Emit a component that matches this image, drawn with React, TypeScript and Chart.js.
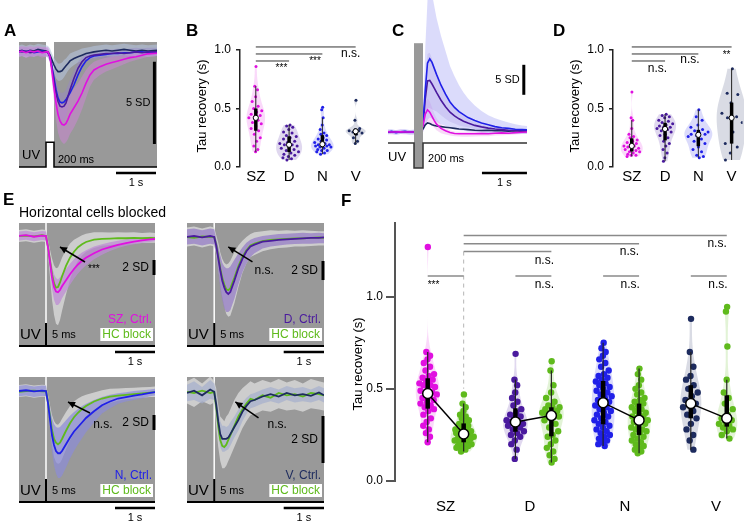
import React, { useEffect, useRef } from "react";
import { Chart, registerables } from "chart.js";

Chart.register(...registerables);
const FONT = "'Liberation Sans', Arial, Helvetica, sans-serif";
Chart.defaults.font.family = FONT;
Chart.defaults.color = "#000";

// ---------- colours ----------
const SZ_COL = "#e010e0";
const D_COL = "#4a1a9e";
const N_COL = "#2020e8";
const V_COL = "#1d2b5e";
const HC_COL = "#5fba1c";
const BG = "#999999";
const HC_BAND = "rgba(214,214,214,0.85)";

// ---------- Panel A (traces, SD units vs time s) ----------
const tA = [-0.675,-0.6,-0.5,-0.4,-0.3,-0.2,-0.1,0,0.05,0.1,0.15,0.2,0.25,0.3,0.35,0.4,0.45,0.5,0.55,0.6,0.7,0.8,0.9,1.0,1.1,1.2,1.35,1.5,1.65,1.8,1.95,2.1,2.25,2.4,2.55,2.775];
const aSZ = [0.0,0.05,-0.05,0.05,0.0,0.05,-0.05,0.0,0.0,-0.3,-1.2,-2.2,-3.1,-3.8,-4.2,-4.4,-4.45,-4.35,-4.1,-3.8,-3.4,-3.0,-2.5,-1.9,-1.4,-1.1,-0.9,-0.75,-0.65,-0.55,-0.45,-0.35,-0.3,-0.2,-0.12,-0.08];
const aD = [0.05,0.0,0.05,-0.05,0.0,0.05,0.0,0.0,-0.05,-0.3,-1.0,-1.8,-2.5,-3.0,-3.3,-3.35,-3.3,-3.1,-2.7,-2.3,-1.6,-1.0,-0.6,-0.35,-0.25,-0.2,-0.15,-0.1,-0.1,-0.05,-0.1,-0.05,0.0,-0.05,0.0,0.0];
const aN = [0.0,0.05,0.0,0.05,-0.05,0.0,0.05,0.0,-0.05,-0.3,-0.9,-1.6,-2.3,-2.8,-3.05,-3.1,-3.05,-2.9,-2.7,-2.5,-2.0,-1.4,-0.9,-0.55,-0.35,-0.25,-0.2,-0.15,-0.1,-0.1,-0.05,-0.05,0.0,0.0,-0.05,0.0];
const aV = [0.05,0.1,0.0,0.1,0.05,0.15,0.1,0.05,0.0,-0.2,-0.5,-0.8,-1.05,-1.2,-1.2,-1.15,-1.0,-0.85,-0.7,-0.55,-0.4,-0.3,-0.2,-0.1,-0.05,0.0,0.05,0.1,0.05,0.1,0.15,0.1,0.05,0.1,0.05,0.1];
const aSZhi = [0.3,0.35,0.3,0.35,0.3,0.35,0.3,0.3,0.3,0.0,-0.6,-1.4,-2.1,-2.7,-3.0,-3.2,-3.2,-3.1,-2.9,-2.6,-2.2,-1.9,-1.5,-1.1,-0.8,-0.6,-0.45,-0.35,-0.3,-0.25,-0.2,-0.15,-0.1,-0.05,0.0,0.05];
const aSZlo = [-0.3,-0.25,-0.35,-0.3,-0.3,-0.25,-0.35,-0.3,-0.3,-0.7,-1.8,-3.0,-4.1,-4.9,-5.3,-5.5,-5.6,-5.5,-5.3,-5.0,-4.6,-4.1,-3.5,-2.8,-2.1,-1.7,-1.4,-1.2,-1.05,-0.9,-0.75,-0.6,-0.5,-0.4,-0.3,-0.25];
const aDhi = [0.3,0.25,0.3,0.2,0.25,0.3,0.25,0.25,0.2,-0.05,-0.6,-1.2,-1.8,-2.2,-2.45,-2.5,-2.45,-2.3,-2.0,-1.7,-1.1,-0.6,-0.3,-0.1,0.0,0.05,0.1,0.15,0.15,0.2,0.15,0.2,0.25,0.2,0.25,0.25];
const aDlo = [-0.2,-0.25,-0.2,-0.3,-0.25,-0.2,-0.25,-0.25,-0.3,-0.55,-1.4,-2.4,-3.2,-3.8,-4.15,-4.2,-4.15,-3.9,-3.4,-2.9,-2.1,-1.4,-0.9,-0.6,-0.5,-0.45,-0.4,-0.35,-0.35,-0.3,-0.35,-0.3,-0.25,-0.3,-0.25,-0.25];
const aVhi = [0.4,0.45,0.35,0.45,0.4,0.5,0.45,0.4,0.35,0.2,-0.1,-0.35,-0.55,-0.7,-0.7,-0.65,-0.5,-0.4,-0.25,-0.1,0.0,0.1,0.2,0.25,0.3,0.35,0.4,0.45,0.4,0.45,0.5,0.45,0.4,0.45,0.4,0.45];
const aVlo = [-0.3,-0.25,-0.35,-0.25,-0.3,-0.2,-0.25,-0.3,-0.35,-0.6,-0.9,-1.3,-1.6,-1.75,-1.75,-1.7,-1.55,-1.35,-1.15,-1.0,-0.8,-0.65,-0.55,-0.45,-0.4,-0.35,-0.3,-0.25,-0.3,-0.25,-0.2,-0.25,-0.3,-0.25,-0.3,-0.25];
const stimAt = [-0.675, 0, 0, 0.2, 0.2, 2.775];
const stimAy = [-7, -7, -5.5, -5.5, -7, -7];

// ---------- Panel C ----------
const tC = [-0.578,-0.5,-0.4,-0.3,-0.2,-0.1,0,0.05,0.1,0.15,0.2,0.25,0.3,0.35,0.4,0.45,0.5,0.6,0.7,0.8,0.9,1.0,1.1,1.2,1.35,1.5,1.65,1.8,1.95,2.1,2.25,2.4,2.511];
const cN = [0.0,0.1,-0.1,0.05,0.1,-0.05,0.0,0.1,0.2,0.5,1.5,7.0,11.5,12.2,11.6,10.6,9.6,7.8,6.3,5.0,4.1,3.4,2.9,2.4,1.9,1.5,1.2,0.9,0.7,0.6,0.45,0.4,0.35];
const cD = [0.0,0.05,0.0,-0.05,0.05,0.0,0.0,0.1,0.15,0.4,1.2,5.5,8.5,8.6,8.0,7.3,6.6,5.3,4.2,3.3,2.7,2.2,1.8,1.5,1.1,0.85,0.65,0.5,0.4,0.3,0.25,0.2,0.2];
const cSZ = [0.05,0.0,0.0,0.05,0.0,0.0,0.0,0.05,0.1,0.3,1.0,3.0,3.7,3.3,2.6,1.9,1.3,0.6,0.2,-0.1,-0.25,-0.3,-0.3,-0.3,-0.3,-0.25,-0.3,-0.2,-0.15,-0.2,-0.1,-0.05,0.0];
const cV = [0.0,0.05,0.0,-0.05,0.05,0.0,0.0,0.05,0.1,0.2,0.5,1.2,1.5,1.4,1.2,1.1,1.0,0.9,0.8,0.7,0.6,0.5,0.45,0.4,0.3,0.25,0.3,0.2,0.2,0.15,0.2,0.1,0.1];
const cNhi = [0.4,0.5,0.3,0.45,0.5,0.35,0.4,0.5,0.7,1.2,3.0,14.0,22.0,24.0,23.0,21.0,19.0,16.0,13.5,11.0,9.3,7.8,6.6,5.6,4.4,3.5,2.8,2.3,1.9,1.6,1.3,1.1,1.0];
const cNlo = [-0.4,-0.3,-0.5,-0.35,-0.3,-0.45,-0.4,-0.35,-0.3,-0.2,0.0,1.0,2.0,2.4,2.2,1.9,1.7,1.3,1.0,0.7,0.5,0.3,0.2,0.1,0.0,-0.1,-0.2,-0.3,-0.3,-0.3,-0.35,-0.35,-0.35];
const cDhi = [0.3,0.35,0.3,0.25,0.35,0.3,0.3,0.35,0.45,0.8,2.2,8.5,13.0,13.2,12.2,11.0,9.8,7.8,6.2,4.9,4.0,3.3,2.7,2.2,1.7,1.3,1.0,0.8,0.65,0.55,0.5,0.45,0.45];
const cDlo = [-0.3,-0.25,-0.3,-0.35,-0.25,-0.3,-0.3,-0.25,-0.2,0.0,0.3,2.5,4.0,4.0,3.8,3.6,3.4,2.8,2.2,1.7,1.4,1.1,0.9,0.8,0.5,0.4,0.3,0.2,0.15,0.05,0.0,-0.05,-0.05];
const cSZhi = [0.4,0.35,0.35,0.4,0.35,0.35,0.35,0.4,0.5,0.8,2.0,5.0,5.6,5.1,4.1,3.1,2.3,1.3,0.7,0.3,0.1,0.05,0.05,0.05,0.05,0.1,0.05,0.1,0.15,0.1,0.2,0.25,0.3];
const cSZlo = [-0.35,-0.4,-0.4,-0.35,-0.4,-0.4,-0.4,-0.35,-0.3,-0.2,0.0,1.0,1.8,1.5,1.1,0.7,0.3,-0.2,-0.4,-0.6,-0.7,-0.75,-0.8,-0.8,-0.75,-0.7,-0.7,-0.6,-0.55,-0.5,-0.4,-0.35,-0.3];
const stimCt = [-0.578, 0, 0, 0.2, 0.2, 2.511];
const stimCy = [-1.83, -1.83, -6, -6, -1.83, -1.83];

// ---------- Panel E (4 sub-panels) ----------
const tE = [-0.675,-0.5,-0.3,-0.1,0,0.05,0.1,0.15,0.2,0.25,0.3,0.35,0.4,0.5,0.6,0.7,0.8,0.9,1.0,1.2,1.4,1.6,1.8,2.0,2.2,2.4,2.6,2.725];
const eSZc = [0.0,0.1,-0.1,0.05,0.0,-1.5,-3.5,-5.5,-6.8,-7.4,-7.5,-7.2,-6.7,-5.9,-5.1,-4.4,-3.8,-3.3,-2.9,-2.3,-1.8,-1.5,-1.2,-0.95,-0.75,-0.6,-0.45,-0.4];
const eSZh = [0.0,0.05,-0.05,0.1,0.0,-1.4,-3.3,-5.1,-6.3,-6.9,-6.8,-6.2,-5.4,-4.0,-2.9,-2.1,-1.5,-1.1,-0.8,-0.5,-0.4,-0.35,-0.3,-0.3,-0.25,-0.3,-0.25,-0.3];
const eSZcHi = [0.6,0.7,0.5,0.65,0.6,-1.0,-2.4,-4.0,-5.1,-5.6,-5.8,-5.5,-5.1,-4.4,-3.7,-3.1,-2.6,-2.2,-1.9,-1.4,-1.1,-0.85,-0.65,-0.45,-0.3,-0.2,-0.1,-0.1];
const eSZcLo = [-0.6,-0.5,-0.7,-0.55,-0.6,-2.0,-4.6,-7.0,-8.5,-9.2,-9.2,-8.9,-8.3,-7.4,-6.5,-5.7,-5.0,-4.4,-3.9,-3.1,-2.5,-2.0,-1.6,-1.3,-1.1,-0.95,-0.8,-0.7];
const eSZhHi = [0.8,0.9,0.7,0.85,0.8,-0.5,-1.8,-3.0,-3.9,-4.3,-4.2,-3.6,-2.9,-1.8,-1.0,-0.5,-0.2,0.1,0.3,0.5,0.5,0.45,0.5,0.45,0.5,0.4,0.45,0.4];
const eSZhLo = [-0.8,-0.7,-0.9,-0.75,-0.8,-2.5,-5.5,-8.5,-10.5,-11.7,-11.9,-11.2,-10.0,-7.8,-5.8,-4.3,-3.3,-2.6,-2.1,-1.6,-1.3,-1.2,-1.1,-1.0,-1.0,-0.95,-0.9,-0.9];

const eDc = [0.0,0.1,-0.05,0.1,0.0,-0.9,-2.2,-3.5,-4.6,-5.3,-5.8,-6.0,-5.8,-4.6,-3.3,-2.3,-1.5,-1.0,-0.8,-0.5,-0.4,-0.3,-0.25,-0.2,-0.15,-0.1,-0.1,-0.05];
const eDh = [0.0,-0.1,0.05,0.0,0.0,-0.8,-2.0,-3.3,-4.3,-5.0,-5.5,-5.6,-5.4,-4.3,-3.1,-2.1,-1.4,-0.9,-0.7,-0.45,-0.3,-0.25,-0.2,-0.15,-0.15,-0.1,-0.05,-0.1];
const eDcHi = [0.8,0.9,0.7,0.9,0.8,-0.2,-1.0,-1.9,-2.7,-3.1,-3.3,-3.3,-3.1,-2.4,-1.7,-1.1,-0.6,-0.3,-0.1,0.1,0.2,0.3,0.35,0.4,0.45,0.4,0.45,0.4];
const eDcLo = [-0.8,-0.7,-0.9,-0.7,-0.8,-1.8,-3.6,-5.4,-6.6,-7.5,-7.9,-7.9,-7.7,-6.5,-5.0,-3.7,-2.8,-2.1,-1.7,-1.2,-1.0,-0.9,-0.8,-0.75,-0.7,-0.7,-0.65,-0.65];
const eDhHi = [1.0,1.1,0.9,1.1,1.0,0.2,-0.6,-1.6,-2.3,-2.7,-2.9,-2.8,-2.5,-1.6,-0.9,-0.4,0.0,0.3,0.5,0.6,0.7,0.65,0.7,0.65,0.7,0.65,0.6,0.6];
const eDhLo = [-1.0,-0.9,-1.1,-0.9,-1.0,-1.8,-3.4,-5.0,-6.3,-7.3,-8.1,-8.4,-8.3,-7.0,-5.3,-3.8,-2.8,-2.1,-1.9,-1.5,-1.3,-1.15,-1.1,-1.0,-1.0,-0.95,-0.9,-0.9];

const eNc = [0.0,0.1,-0.05,0.05,0.0,-1.6,-3.8,-5.9,-7.2,-8.0,-8.3,-8.3,-8.0,-7.1,-6.2,-5.4,-4.8,-4.2,-3.6,-2.7,-1.9,-1.4,-1.0,-0.8,-0.6,-0.45,-0.25,-0.15];
const eNh = [-0.1,0.0,0.05,-0.05,0.0,-1.4,-3.4,-5.2,-6.4,-6.9,-7.1,-6.9,-6.4,-5.3,-4.3,-3.5,-2.9,-2.4,-2.0,-1.4,-1.0,-0.75,-0.6,-0.5,-0.4,-0.3,-0.2,-0.15];
const eNcHi = [0.7,0.8,0.6,0.75,0.7,-0.9,-2.3,-3.6,-4.4,-4.8,-4.9,-4.8,-4.5,-3.9,-3.3,-2.8,-2.4,-2.0,-1.7,-1.2,-0.8,-0.5,-0.3,-0.15,0.0,0.1,0.2,0.3];
const eNcLo = [-0.7,-0.6,-0.8,-0.65,-0.7,-2.3,-5.2,-8.1,-9.9,-11.0,-11.6,-11.6,-11.3,-10.2,-9.0,-8.0,-7.1,-6.3,-5.5,-4.2,-3.0,-2.3,-1.7,-1.4,-1.2,-1.0,-0.7,-0.6];
const eNhHi = [0.8,0.9,0.75,0.85,0.8,-0.5,-1.9,-3.2,-4.0,-4.4,-4.5,-4.2,-3.7,-2.8,-2.0,-1.4,-1.0,-0.7,-0.5,-0.2,0.1,0.3,0.35,0.4,0.45,0.5,0.55,0.6];
const eNhLo = [-0.8,-0.7,-0.9,-0.75,-0.8,-2.2,-4.8,-7.2,-8.8,-9.5,-9.7,-9.6,-9.1,-7.8,-6.6,-5.6,-4.8,-4.1,-3.5,-2.6,-2.0,-1.6,-1.3,-1.1,-1.0,-0.9,-0.8,-0.8];

const eVc = [0.0,0.1,-0.1,0.15,0.05,-0.5,-1.2,-1.75,-1.95,-1.95,-1.95,-1.9,-1.75,-1.45,-1.15,-0.8,-0.55,-0.35,-0.3,-0.15,-0.05,-0.15,0.0,-0.1,-0.05,-0.12,0.02,-0.1];
const eVh = [0.05,0.0,0.1,0.0,0.05,-0.6,-1.4,-2.0,-2.25,-2.3,-2.2,-2.0,-1.8,-1.4,-1.0,-0.7,-0.45,-0.25,-0.3,-0.1,-0.2,0.0,-0.1,-0.05,-0.15,0.0,-0.05,-0.1];
const eVcHi = [0.35,0.5,0.25,0.55,0.4,0.0,-0.6,-1.2,-1.4,-1.4,-1.45,-1.4,-1.25,-1.0,-0.7,-0.4,-0.2,-0.05,0.0,0.15,0.25,0.15,0.3,0.2,0.25,0.15,0.3,0.2];
const eVcLo = [-0.35,-0.3,-0.45,-0.25,-0.3,-1.0,-1.8,-2.3,-2.5,-2.5,-2.45,-2.4,-2.25,-1.9,-1.6,-1.2,-0.9,-0.65,-0.6,-0.45,-0.35,-0.45,-0.3,-0.4,-0.35,-0.4,-0.3,-0.4];
const eVhHi = [0.5,0.65,0.4,0.7,0.5,0.2,-0.5,-1.0,-1.1,-1.2,-1.0,-0.9,-0.7,-0.3,0.0,0.2,0.35,0.5,0.4,0.55,0.45,0.6,0.45,0.55,0.4,0.6,0.5,0.45];
const eVhLo = [-0.45,-0.6,-0.35,-0.5,-0.4,-1.4,-2.3,-2.9,-3.2,-3.2,-3.1,-2.9,-2.7,-2.3,-1.9,-1.5,-1.2,-0.95,-0.9,-0.75,-0.8,-0.65,-0.75,-0.7,-0.8,-0.65,-0.7,-0.75];

// ---------- Panels B, D, F (tau recovery, s) ----------
const categories = ["SZ", "D", "N", "V"];
const yTicksBD = [0, 0.5, 1.0];
const yTicksF = [0, 0.5, 1.0];

const bSZ = [0.86,0.69,0.66,0.6,0.56,0.52,0.5,0.48,0.47,0.45,0.44,0.43,0.42,0.4,0.38,0.37,0.35,0.33,0.31,0.28,0.25,0.22,0.18,0.15,0.13];
const bD = [0.36,0.35,0.34,0.32,0.3,0.29,0.27,0.26,0.25,0.24,0.22,0.21,0.2,0.19,0.19,0.18,0.17,0.16,0.15,0.14,0.13,0.12,0.11,0.1,0.09,0.08,0.07,0.06];
const bN = [0.51,0.49,0.42,0.36,0.32,0.29,0.28,0.27,0.25,0.24,0.23,0.22,0.21,0.2,0.19,0.19,0.19,0.18,0.18,0.17,0.17,0.16,0.15,0.14,0.14,0.13,0.12,0.11];
const bV = [0.57,0.4,0.33,0.32,0.31,0.31,0.3,0.29,0.28,0.25,0.22,0.2];

const dSZ = [0.64,0.42,0.4,0.33,0.28,0.26,0.25,0.23,0.22,0.21,0.2,0.19,0.18,0.18,0.17,0.16,0.15,0.15,0.14,0.13,0.13,0.12,0.11,0.1,0.1,0.09];
const dD = [0.45,0.44,0.43,0.42,0.4,0.39,0.38,0.37,0.36,0.35,0.34,0.34,0.33,0.32,0.31,0.3,0.28,0.27,0.25,0.22,0.2,0.18,0.15,0.12,0.08,0.05];
const dN = [0.49,0.43,0.4,0.36,0.34,0.32,0.31,0.3,0.29,0.28,0.28,0.27,0.26,0.24,0.22,0.2,0.17,0.15,0.13,0.1,0.09,0.08];
const dV = [0.84,0.63,0.62,0.55,0.46,0.43,0.42,0.38,0.3,0.2,0.17,0.12,0.06];

const fSZc = [1.27,0.7,0.68,0.66,0.64,0.62,0.6,0.58,0.57,0.56,0.55,0.54,0.53,0.52,0.52,0.51,0.5,0.49,0.48,0.47,0.47,0.46,0.45,0.44,0.43,0.42,0.41,0.4,0.39,0.38,0.36,0.34,0.32,0.3,0.28,0.26,0.24,0.21];
const fSZh = [0.47,0.42,0.4,0.38,0.36,0.35,0.34,0.33,0.32,0.31,0.3,0.29,0.28,0.28,0.27,0.27,0.26,0.26,0.25,0.25,0.24,0.24,0.23,0.23,0.22,0.22,0.21,0.21,0.2,0.2,0.19,0.19,0.18,0.18,0.17,0.16];
const fDc = [0.69,0.55,0.52,0.48,0.45,0.43,0.41,0.39,0.37,0.36,0.35,0.34,0.33,0.32,0.32,0.31,0.3,0.3,0.29,0.28,0.27,0.26,0.25,0.24,0.22,0.2,0.17,0.12];
const fDh = [0.65,0.6,0.52,0.48,0.45,0.43,0.41,0.4,0.4,0.39,0.38,0.37,0.37,0.36,0.36,0.35,0.34,0.33,0.31,0.29,0.27,0.25,0.24,0.22,0.2,0.18,0.16,0.14,0.12,0.1];
const fNc = [0.75,0.72,0.7,0.68,0.66,0.64,0.62,0.6,0.58,0.57,0.56,0.55,0.54,0.53,0.52,0.51,0.5,0.49,0.48,0.47,0.46,0.45,0.44,0.43,0.42,0.41,0.4,0.39,0.38,0.37,0.36,0.35,0.34,0.33,0.32,0.31,0.3,0.29,0.28,0.27,0.26,0.25,0.24,0.23,0.22,0.21,0.2,0.19];
const fNh = [0.61,0.58,0.55,0.52,0.5,0.48,0.47,0.45,0.44,0.43,0.42,0.41,0.4,0.39,0.38,0.37,0.36,0.35,0.35,0.34,0.33,0.33,0.32,0.31,0.3,0.29,0.28,0.28,0.27,0.26,0.25,0.24,0.23,0.22,0.21,0.2,0.19,0.18,0.17,0.16,0.15];
const fVc = [0.88,0.7,0.62,0.57,0.55,0.52,0.5,0.48,0.46,0.44,0.42,0.41,0.4,0.38,0.36,0.34,0.31,0.28,0.25,0.22,0.17];
const fVh = [0.945,0.92,0.73,0.55,0.48,0.45,0.42,0.39,0.36,0.34,0.33,0.32,0.31,0.3,0.29,0.28,0.27,0.25,0.23];

// ---------- helpers ----------
const xy = (t: number[], v: number[]) => t.map((x, i) => ({ x, y: v[i] }));
const tr = (t: number[], v: number[], c: string, order = 0, bw = 1.6) => ({
  data: xy(t, v), borderColor: c, borderWidth: bw, pointRadius: 0, fill: false, tension: 0, order,
});
const band = (t: number[], hi: number[], lo: number[], c: string, order: number) => [
  { data: xy(t, hi), borderColor: "rgba(0,0,0,0)", borderWidth: 0, pointRadius: 0, fill: "+1", backgroundColor: c, tension: 0, order },
  { data: xy(t, lo), borderColor: "rgba(0,0,0,0)", borderWidth: 0, pointRadius: 0, fill: false, tension: 0, order },
];

function drawText(ctx: any, s: string, x: number, y: number, size: number, align = "left", color = "#000", bold = false) {
  ctx.save();
  ctx.font = `${bold ? "bold " : ""}${size}px ${FONT}`;
  ctx.fillStyle = color;
  ctx.textAlign = align;
  ctx.textBaseline = "middle";
  ctx.fillText(s, x, y);
  ctx.restore();
}
function vText(ctx: any, s: string, x: number, y: number, size: number) {
  ctx.save();
  ctx.translate(x, y);
  ctx.rotate(-Math.PI / 2);
  ctx.font = `${size}px ${FONT}`;
  ctx.fillStyle = "#000";
  ctx.textAlign = "center";
  ctx.textBaseline = "middle";
  ctx.fillText(s, 0, 0);
  ctx.restore();
}
function seg(ctx: any, x1: number, y1: number, x2: number, y2: number, color: string, width: number, dash: number[] = []) {
  ctx.save();
  ctx.strokeStyle = color;
  ctx.lineWidth = width;
  ctx.setLineDash(dash);
  ctx.beginPath();
  ctx.moveTo(x1, y1);
  ctx.lineTo(x2, y2);
  ctx.stroke();
  ctx.restore();
}
function path(ctx: any, xs: number[], ys: number[], color: string, width: number) {
  ctx.save();
  ctx.strokeStyle = color;
  ctx.lineWidth = width;
  ctx.lineJoin = "miter";
  ctx.beginPath();
  xs.forEach((x, i) => (i ? ctx.lineTo(x, ys[i]) : ctx.moveTo(x, ys[i])));
  ctx.stroke();
  ctx.restore();
}
function arrow(ctx: any, x1: number, y1: number, x2: number, y2: number) {
  seg(ctx, x1, y1, x2, y2, "#000", 1.5);
  const a = Math.atan2(y2 - y1, x2 - x1);
  ctx.save();
  ctx.fillStyle = "#000";
  ctx.beginPath();
  ctx.moveTo(x2, y2);
  ctx.lineTo(x2 - 7 * Math.cos(a) + 3.5 * Math.sin(a), y2 - 7 * Math.sin(a) - 3.5 * Math.cos(a));
  ctx.lineTo(x2 - 7 * Math.cos(a) - 3.5 * Math.sin(a), y2 - 7 * Math.sin(a) + 3.5 * Math.cos(a));
  ctx.closePath();
  ctx.fill();
  ctx.restore();
}

function traceChart(w: number, h: number, area: number[], xr: number[], yr: number[], datasets: any[], before: any, after: any) {
  return {
    type: "line",
    data: { datasets },
    options: {
      animation: false, responsive: false, maintainAspectRatio: false, events: [],
      layout: { padding: { left: area[0], top: area[1], right: w - area[2], bottom: h - area[3] } },
      scales: {
        x: { type: "linear", display: false, min: xr[0], max: xr[1] },
        y: { type: "linear", display: false, min: yr[0], max: yr[1] },
      },
      plugins: { legend: { display: false }, tooltip: { enabled: false } },
    },
    plugins: [{ id: "deco", beforeDatasetsDraw: (c: any) => before(c, c.ctx), afterDatasetsDraw: (c: any) => after(c, c.ctx) }],
  };
}

// ---------- Panel A ----------
function makeA(w: number, h: number) {
  const ds = [
    tr(tA, aSZ, SZ_COL, 0), tr(tA, aD, D_COL, 1), tr(tA, aN, N_COL, 2), tr(tA, aV, V_COL, 3),
    ...band(tA, aSZhi, aSZlo, "rgba(212,130,222,0.45)", 10),
    ...band(tA, aDhi, aDlo, "rgba(150,130,205,0.4)", 11),
    ...band(tA, aVhi, aVlo, "rgba(180,195,220,0.6)", 12),
  ];
  const before = (c: any, ctx: any) => {
    const a = c.chartArea, X = (v: number) => c.scales.x.getPixelForValue(v);
    ctx.save();
    ctx.fillStyle = BG;
    ctx.fillRect(a.left, a.top, a.right - a.left, a.bottom - a.top);
    ctx.fillStyle = "#fff";
    ctx.fillRect(X(0), a.top, X(0.2) - X(0), a.bottom - a.top);
    ctx.restore();
  };
  const after = (c: any, ctx: any) => {
    const a = c.chartArea, X = (v: number) => c.scales.x.getPixelForValue(v), Y = (v: number) => c.scales.y.getPixelForValue(v);
    path(ctx, stimAt.map(X), stimAy.map(Y), "#000", 1.5);
    seg(ctx, X(2.71), Y(-0.6), X(2.71), Y(-5.6), "#000", 3);
    drawText(ctx, "5 SD", X(2.71) - 4, Y(-3.1), 11, "right");
    drawText(ctx, "UV", a.left + 3, Y(-6.3), 13);
    drawText(ctx, "200 ms", X(0.2) + 4, Y(-6.6), 11);
    seg(ctx, X(1.75), a.bottom + 6, X(2.75), a.bottom + 6, "#000", 2.5);
    drawText(ctx, "1 s", X(2.25), a.bottom + 16, 11, "center");
    drawText(ctx, "A", 4, 31, 17, "left", "#000", true);
  };
  return traceChart(w, h, [19, 42, 157, 167], [-0.675, 2.775], [-7.0, 0.6], ds, before, after);
}

// ---------- Panel C ----------
function makeC(w: number, h: number) {
  const ds = [
    tr(tC, cN, N_COL, 1), tr(tC, cD, D_COL, 2), tr(tC, cSZ, SZ_COL, 0), tr(tC, cV, V_COL, 3),
    ...band(tC, cNhi, cNlo, "rgba(170,170,245,0.42)", 10),
    ...band(tC, cDhi, cDlo, "rgba(140,110,200,0.22)", 11),
    ...band(tC, cSZhi, cSZlo, "rgba(235,150,235,0.35)", 12),
  ];
  const before = () => {};
  const after = (c: any, ctx: any) => {
    const a = c.chartArea, X = (v: number) => c.scales.x.getPixelForValue(v), Y = (v: number) => c.scales.y.getPixelForValue(v);
    ctx.save();
    ctx.fillStyle = BG;
    ctx.fillRect(X(0), Y(14.8), X(0.2) - X(0), Y(-6) - Y(14.8));
    ctx.restore();
    path(ctx, stimCt.map(X), stimCy.map(Y), "#333", 1.5);
    seg(ctx, X(2.44), Y(11.2), X(2.44), Y(6.2), "#000", 3);
    drawText(ctx, "5 SD", X(2.44) - 4, Y(8.7), 11, "right");
    drawText(ctx, "UV", a.left, Y(-4.2), 13);
    drawText(ctx, "200 ms", X(0.2) + 5, Y(-4.5), 11);
    seg(ctx, X(1.51), a.bottom + 5, X(2.51), a.bottom + 5, "#000", 2.5);
    drawText(ctx, "1 s", X(2.01), a.bottom + 15, 11, "center");
    drawText(ctx, "C", 22, 31, 17, "left", "#000", true);
  };
  return traceChart(w, h, [18, 0, 157, 168], [-0.578, 2.511], [-6, 22], ds, before, after);
}

// ---------- Panel E ----------
function makeE(o: any) {
  return (w: number, h: number) => {
    const ds = [
      tr(tE, o.ctrl, o.ctrlCol, 0, 1.8),
      tr(tE, o.hc, HC_COL, 1, 1.8),
      ...band(tE, o.ctrlHi, o.ctrlLo, o.ctrlBand, 10),
      ...band(tE, o.hcHi, o.hcLo, HC_BAND, 20),
    ];
    const before = (c: any, ctx: any) => {
      const a = c.chartArea, X = (v: number) => c.scales.x.getPixelForValue(v);
      ctx.save();
      ctx.fillStyle = BG;
      ctx.fillRect(a.left, a.top, a.right - a.left, a.bottom - a.top);
      ctx.restore();
      seg(ctx, X(0), a.top, X(0), a.bottom, "#fff", 1.5);
    };
    const after = (c: any, ctx: any) => {
      const a = c.chartArea, X = (v: number) => c.scales.x.getPixelForValue(v), Y = (v: number) => c.scales.y.getPixelForValue(v);
      seg(ctx, a.left, a.bottom, a.right, a.bottom, "#000", 2);
      seg(ctx, X(0), a.bottom, X(0), a.bottom - 23, "#000", 2);
      seg(ctx, a.right - 1, Y(o.sdBar[0]), a.right - 1, Y(o.sdBar[1]), "#000", 3);
      drawText(ctx, "2 SD", a.right - 6, (Y(o.sdBar[0]) + Y(o.sdBar[1])) / 2, 12, "right");
      arrow(ctx, X(o.arrow[0]), Y(o.arrow[1]), X(o.arrow[2]), Y(o.arrow[3]));
      const star = o.sig.s.startsWith("*");
      drawText(ctx, o.sig.s, X(o.sig.t), Y(o.sig.y) + (star ? 3 : 0), star ? 10 : 12);
      drawText(ctx, "UV", a.left + 1, a.bottom - 11, 15);
      drawText(ctx, "5 ms", X(0) + 6, a.bottom - 11, 11);
      drawText(ctx, o.ctrlLabel, a.right - 3, a.bottom - 26, 12, "right", o.ctrlCol);
      ctx.save();
      ctx.font = `12px ${FONT}`;
      const tw = ctx.measureText("HC block").width;
      ctx.fillStyle = "#fff";
      ctx.fillRect(a.right - 4 - tw - 2, a.bottom - 18, tw + 4, 13);
      ctx.restore();
      drawText(ctx, "HC block", a.right - 4, a.bottom - 11.5, 12, "right", HC_COL);
      seg(ctx, X(1.725), a.bottom + 6, X(2.725), a.bottom + 6, "#000", 2.5);
      drawText(ctx, "1 s", X(2.225), a.bottom + 16, 11, "center");
      if (o.extra) o.extra(ctx);
    };
    return traceChart(w, h, o.area, [-0.675, 2.725], o.y, ds, before, after);
  };
}

// ---------- violin charts ----------
function quant(s: number[], p: number) {
  const i = (s.length - 1) * p, lo = Math.floor(i), hi = Math.ceil(i);
  return s[lo] + (s[hi] - s[lo]) * (i - lo);
}
function summarize(vals: number[]) {
  const s = [...vals].sort((a, b) => a - b);
  const q1 = quant(s, 0.25), med = quant(s, 0.5), q3 = quant(s, 0.75), iqr = q3 - q1;
  const inside = s.filter((v) => v >= q1 - 1.5 * iqr && v <= q3 + 1.5 * iqr);
  const mean = s.reduce((a, b) => a + b, 0) / s.length;
  const sd = Math.sqrt(s.reduce((a, b) => a + (b - mean) ** 2, 0) / (s.length - 1));
  const bw = 1.06 * Math.min(sd, iqr / 1.34 || sd) * Math.pow(s.length, -0.2);
  const dens = (y: number) => s.reduce((a, v) => a + Math.exp(-0.5 * ((y - v) / bw) ** 2), 0);
  let dmax = 0;
  for (let k = 0; k <= 80; k++) dmax = Math.max(dmax, dens(s[0] + ((s[s.length - 1] - s[0]) * k) / 80));
  return { s, q1, med, q3, wlo: inside[0], whi: inside[inside.length - 1], min: s[0], max: s[s.length - 1], dens, dmax };
}
const jit = (i: number) => (((i + 1) * 0.6180339887) % 1) * 2 - 1;

function violinChart(o: any) {
  return (w: number, h: number) => {
    const st = o.groups.map((g: any) => summarize(g.vals));
    const datasets = o.groups.map((g: any, gi: number) => ({
      data: g.vals.map((v: number, i: number) => ({ x: g.pos + (jit(i) * 0.8 * g.hw * st[gi].dens(v)) / st[gi].dmax, y: v })),
      backgroundColor: g.dot, borderColor: g.dot, borderWidth: 0, pointRadius: o.dotR, pointHoverRadius: o.dotR,
    }));
    const before = (c: any) => {
      const ctx = c.ctx, X = (v: number) => c.scales.x.getPixelForValue(v), Y = (v: number) => c.scales.y.getPixelForValue(v);
      if (o.dashed) seg(ctx, X(o.dashed[0]), Y(o.dashed[1]), X(o.dashed[0]), Y(o.dashed[2]), "#b5b5b5", 1, [4, 4]);
      o.groups.forEach((g: any, gi: number) => {
        const s = st[gi], N = 60;
        ctx.save();
        ctx.beginPath();
        for (let k = 0; k <= N; k++) {
          const y = s.min + ((s.max - s.min) * k) / N, ww = (g.hw * s.dens(y)) / s.dmax;
          k ? ctx.lineTo(X(g.pos - ww), Y(y)) : ctx.moveTo(X(g.pos - ww), Y(y));
        }
        for (let k = N; k >= 0; k--) {
          const y = s.min + ((s.max - s.min) * k) / N, ww = (g.hw * s.dens(y)) / s.dmax;
          ctx.lineTo(X(g.pos + ww), Y(y));
        }
        ctx.closePath();
        ctx.fillStyle = g.fill;
        ctx.fill();
        ctx.restore();
      });
    };
    const after = (c: any) => {
      const ctx = c.ctx, X = (v: number) => c.scales.x.getPixelForValue(v), Y = (v: number) => c.scales.y.getPixelForValue(v);
      o.groups.forEach((g: any, gi: number) => {
        const s = st[gi];
        seg(ctx, X(g.pos), Y(s.wlo), X(g.pos), Y(s.whi), "#222", o.whiskW);
        seg(ctx, X(g.pos), Y(s.q1), X(g.pos), Y(s.q3), "#000", o.boxW);
      });
      (o.pairs || []).forEach((p: number[]) =>
        seg(ctx, X(o.groups[p[0]].pos), Y(st[p[0]].med), X(o.groups[p[1]].pos), Y(st[p[1]].med), "#000", 1.5));
      o.groups.forEach((g: any, gi: number) => {
        ctx.save();
        ctx.beginPath();
        ctx.arc(X(g.pos), Y(st[gi].med), o.medR, 0, Math.PI * 2);
        ctx.fillStyle = "#fff";
        ctx.fill();
        ctx.lineWidth = o.medLW;
        ctx.strokeStyle = "#000";
        ctx.stroke();
        ctx.restore();
      });
      o.lines.forEach((l: number[]) => seg(ctx, X(l[0]), Y(l[2]), X(l[1]), Y(l[2]), o.lineCol, o.lineW));
      o.labels.forEach((l: any) => {
        const star = l.s.startsWith("*");
        drawText(ctx, l.s, X(l.x), Y(l.y) + (star ? 3 : 0), star ? 10 : 12, l.align || "center");
      });
      vText(ctx, "Tau recovery (s)", o.title[0], o.title[1], 13);
      drawText(ctx, o.letter[0], o.letter[1], o.letter[2], 17, "left", "#000", true);
    };
    return {
      type: "scatter",
      data: { datasets },
      options: {
        animation: false, responsive: false, maintainAspectRatio: false, events: [],
        layout: { padding: o.pad },
        scales: {
          x: {
            type: "linear", min: o.x[0], max: o.x[1],
            afterFit: (s: any) => { s.height = o.axisH; },
            afterBuildTicks: (s: any) => { s.ticks = o.xTickPos.map((v: number) => ({ value: v })); },
            ticks: { callback: (_v: any, i: number) => categories[i], font: { size: 15, family: FONT }, padding: o.xPad, autoSkip: false, maxRotation: 0, minRotation: 0, color: "#000" },
            grid: { display: false, drawTicks: false },
            border: { display: false },
          },
          y: {
            type: "linear", min: o.y[0], max: o.y[1],
            afterFit: (s: any) => { s.width = 50; },
            afterBuildTicks: (s: any) => { s.ticks = o.yTicks.map((v: number) => ({ value: v })); },
            ticks: { callback: (v: any) => Number(v).toFixed(1), font: { size: 12, family: FONT }, padding: o.tickPad, color: "#000" },
            grid: { display: true, drawOnChartArea: false, drawTicks: true, tickLength: o.tickLen, color: o.axisCol, lineWidth: o.axisLW },
            border: { display: true, color: o.axisCol, width: o.axisLW },
          },
        },
        plugins: { legend: { display: false }, tooltip: { enabled: false } },
      },
      plugins: [{ id: "vio", beforeDatasetsDraw: before, afterDatasetsDraw: after }],
    };
  };
}

const FILL_SZ = "rgba(226,16,226,0.16)";
const FILL_D = "rgba(74,26,158,0.17)";
const FILL_N = "rgba(32,32,232,0.16)";
const FILL_V = "rgba(29,43,94,0.17)";
const FILL_HC = "rgba(95,186,28,0.18)";

const makeB = violinChart({
  groups: [
    { pos: 1, vals: bSZ, dot: SZ_COL, fill: FILL_SZ, hw: 0.28 },
    { pos: 2, vals: bD, dot: D_COL, fill: FILL_D, hw: 0.39 },
    { pos: 3, vals: bN, dot: N_COL, fill: FILL_N, hw: 0.34 },
    { pos: 4, vals: bV, dot: V_COL, fill: FILL_V, hw: 0.3 },
  ],
  pad: { left: 6, top: 50, right: 0, bottom: 3 }, axisH: 25, x: [0.525, 4.386], y: [0, 1], yTicks: yTicksBD,
  xTickPos: [1, 2, 3, 4], xPad: 1, tickLen: 4, tickPad: 5, axisCol: "#222", axisLW: 1.5,
  dotR: 1.5, medR: 2.6, medLW: 1, boxW: 3.5, whiskW: 1,
  lines: [[1, 4, 1.026], [1, 3, 0.966], [1, 2, 0.906]], lineCol: "#333", lineW: 1,
  labels: [{ s: "***", x: 1.77, y: 0.872 }, { s: "***", x: 2.78, y: 0.93 }, { s: "n.s.", x: 3.85, y: 0.966 }],
  title: [18, 106], letter: ["B", 2, 31],
});
const makeD = violinChart({
  groups: [
    { pos: 1, vals: dSZ, dot: SZ_COL, fill: FILL_SZ, hw: 0.33 },
    { pos: 2, vals: dD, dot: D_COL, fill: FILL_D, hw: 0.33 },
    { pos: 3, vals: dN, dot: N_COL, fill: FILL_N, hw: 0.42 },
    { pos: 4, vals: dV, dot: V_COL, fill: FILL_V, hw: 0.45 },
  ],
  pad: { left: 11, top: 50, right: 0, bottom: 3 }, axisH: 25, x: [0.436, 4.327], y: [0, 1], yTicks: yTicksBD,
  xTickPos: [1, 2, 3, 4], xPad: 1, tickLen: 4, tickPad: 5, axisCol: "#222", axisLW: 1.5,
  dotR: 1.5, medR: 2.6, medLW: 1, boxW: 3.5, whiskW: 1,
  lines: [[1, 4, 1.026], [1, 3, 0.966], [1, 2, 0.906]], lineCol: "#333", lineW: 1,
  labels: [{ s: "n.s.", x: 1.77, y: 0.838 }, { s: "n.s.", x: 2.75, y: 0.915 }, { s: "**", x: 3.85, y: 0.98 }],
  title: [23, 106], letter: ["D", 1, 31],
});
const makeF = violinChart({
  groups: [
    { pos: 1, vals: fSZc, dot: SZ_COL, fill: FILL_SZ, hw: 0.136 },
    { pos: 1.41, vals: fSZh, dot: HC_COL, fill: FILL_HC, hw: 0.15 },
    { pos: 2, vals: fDc, dot: D_COL, fill: FILL_D, hw: 0.14 },
    { pos: 2.41, vals: fDh, dot: HC_COL, fill: FILL_HC, hw: 0.14 },
    { pos: 3, vals: fNc, dot: N_COL, fill: FILL_N, hw: 0.13 },
    { pos: 3.41, vals: fNh, dot: HC_COL, fill: FILL_HC, hw: 0.13 },
    { pos: 4, vals: fVc, dot: V_COL, fill: FILL_V, hw: 0.12 },
    { pos: 4.41, vals: fVh, dot: HC_COL, fill: FILL_HC, hw: 0.12 },
  ],
  pairs: [[0, 1], [2, 3], [4, 5], [6, 7]],
  pad: { left: 5, top: 33, right: 0, bottom: 3 }, axisH: 38, x: [0.627, 4.57], y: [0, 1.4], yTicks: yTicksF,
  xTickPos: [1.203, 2.164, 3.249, 4.288], xPad: 17, tickLen: 9, tickPad: 3, axisCol: "#555", axisLW: 2,
  dotR: 3.2, medR: 5, medLW: 1.5, boxW: 4.5, whiskW: 1.2,
  dashed: [1.41, 1.245, 0.5],
  lines: [[1.41, 4.41, 1.332], [1.41, 3.41, 1.288], [1.41, 2.41, 1.245], [1, 1.41, 1.112], [2, 2.41, 1.112], [3, 3.41, 1.112], [4, 4.41, 1.112]],
  lineCol: "#8a8a8a", lineW: 1.5,
  labels: [
    { s: "n.s.", x: 4.41, y: 1.286, align: "right" }, { s: "n.s.", x: 3.41, y: 1.243, align: "right" },
    { s: "n.s.", x: 2.44, y: 1.194, align: "right" }, { s: "***", x: 1.0, y: 1.08, align: "left" },
    { s: "n.s.", x: 2.44, y: 1.064, align: "right" }, { s: "n.s.", x: 3.42, y: 1.064, align: "right" },
    { s: "n.s.", x: 4.42, y: 1.064, align: "right" },
  ],
  title: [18, 174], letter: ["F", 1, 11],
});

const makeE1 = makeE({
  area: [19, 33, 155, 156], y: [-14.67, 1.73], ctrl: eSZc, hc: eSZh, ctrlHi: eSZcHi, ctrlLo: eSZcLo, hcHi: eSZhHi, hcLo: eSZhLo,
  ctrlCol: SZ_COL, ctrlBand: "rgba(190,140,212,0.75)", sdBar: [-3.2, -5.2], arrow: [0.975, -3.47, 0.35, -1.47],
  sig: { s: "***", t: 1.05, y: -4.1 }, ctrlLabel: "SZ, Ctrl.",
  extra: (ctx: any) => {
    drawText(ctx, "E", 3, 10.5, 17, "left", "#000", true);
    drawText(ctx, "Horizontal cells blocked", 19, 23, 14);
  },
});
const makeE2 = makeE({
  area: [17, 33, 154, 156], y: [-11.47, 1.47], ctrl: eDc, hc: eDh, ctrlHi: eDcHi, ctrlLo: eDcLo, hcHi: eDhHi, hcLo: eDhLo,
  ctrlCol: D_COL, ctrlBand: "rgba(150,125,198,0.75)", sdBar: [-2.53, -4.53], arrow: [0.95, -2.63, 0.35, -1.05],
  sig: { s: "n.s.", t: 1.0, y: -3.55 }, ctrlLabel: "D, Ctrl.",
});
const makeE3 = makeE({
  area: [19, 9, 155, 134], y: [-14.8, 1.87], ctrl: eNc, hc: eNh, ctrlHi: eNcHi, ctrlLo: eNcLo, hcHi: eNhHi, hcLo: eNhLo,
  ctrlCol: N_COL, ctrlBand: "rgba(140,140,215,0.7)", sdBar: [-3.2, -5.2], arrow: [1.1, -2.93, 0.55, -1.47],
  sig: { s: "n.s.", t: 1.18, y: -4.5 }, ctrlLabel: "N, Ctrl.",
});
const makeE4 = makeE({
  area: [17, 9, 154, 134], y: [-4.64, 0.68], ctrl: eVc, hc: eVh, ctrlHi: eVcHi, ctrlLo: eVcLo, hcHi: eVhHi, hcLo: eVhLo,
  ctrlCol: V_COL, ctrlBand: "rgba(165,175,205,0.7)", sdBar: [-0.98, -2.98], arrow: [1.1, -1.06, 0.525, -0.38],
  sig: { s: "n.s.", t: 1.325, y: -1.36 }, ctrlLabel: "V, Ctrl.",
});

function Panel({ left, top, w, h, make }: any) {
  const ref = useRef<HTMLCanvasElement>(null);
  useEffect(() => {
    const ch = new Chart(ref.current as any, make(w, h) as any);
    return () => ch.destroy();
  }, []);
  return <canvas ref={ref} width={w} height={h} style={{ position: "absolute", left, top, width: w, height: h }} />;
}

export default function App() {
  return (
    <div style={{ position: "absolute", left: 0, top: 0, width: 744, height: 522, background: "#fff", overflow: "hidden" }}>
      <Panel left={0} top={0} w={186} h={195} make={makeA} />
      <Panel left={184} top={0} w={186} h={195} make={makeB} />
      <Panel left={370} top={0} w={184} h={195} make={makeC} />
      <Panel left={552} top={0} w={192} h={195} make={makeD} />
      <Panel left={0} top={190} w={170} h={180} make={makeE1} />
      <Panel left={170} top={190} w={170} h={180} make={makeE2} />
      <Panel left={0} top={368} w={170} h={154} make={makeE3} />
      <Panel left={170} top={368} w={170} h={154} make={makeE4} />
      <Panel left={340} top={190} w={404} h={332} make={makeF} />
    </div>
  );
}
